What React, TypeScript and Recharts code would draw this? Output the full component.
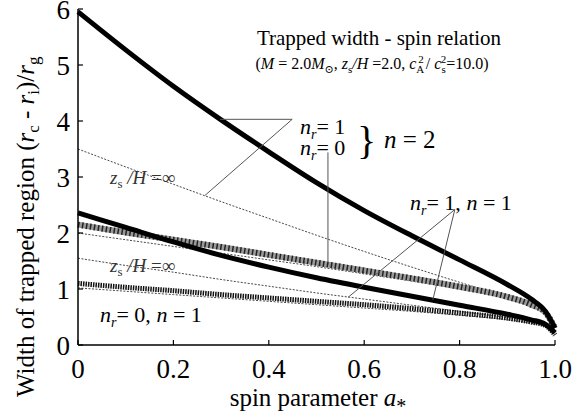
import React from 'react';
import { LineChart, Line, XAxis, YAxis, ReferenceLine } from 'recharts';

// spin parameter a* grid
const spin = [0, 0.1, 0.2, 0.3, 0.4, 0.5, 0.6, 0.7, 0.8, 0.9, 0.95, 0.98, 1.0];

// n = 2
const nr1n2 = [5.95, 5.27, 4.62, 4.02, 3.45, 2.9, 2.4, 1.95, 1.52, 1.08, 0.82, 0.6, 0.3];
const nr0n2 = [2.15, 2.01, 1.88, 1.75, 1.61, 1.47, 1.33, 1.19, 1.04, 0.86, 0.72, 0.58, 0.3];
// n = 1
const nr1n1 = [2.36, 2.1, 1.84, 1.6, 1.39, 1.2, 1.03, 0.87, 0.71, 0.55, 0.45, 0.37, 0.22];
const nr0n1 = [1.1, 1.03, 0.97, 0.9, 0.84, 0.78, 0.72, 0.65, 0.57, 0.48, 0.41, 0.35, 0.18];
// zs/H = infinity
const infNr1n2 = [3.5, 3.18, 2.87, 2.56, 2.26, 1.96, 1.67, 1.39, 1.12, 0.86, 0.72, 0.6, 0.35];
const infNr0n2 = [2.0, 1.88, 1.76, 1.64, 1.52, 1.4, 1.27, 1.14, 1.0, 0.84, 0.7, 0.58, 0.32];
const infNr1n1 = [1.55, 1.42, 1.3, 1.17, 1.05, 0.93, 0.82, 0.71, 0.6, 0.49, 0.42, 0.36, 0.25];
const infNr0n1 = [1.02, 0.96, 0.9, 0.84, 0.78, 0.72, 0.66, 0.6, 0.53, 0.45, 0.39, 0.33, 0.18];

const xTicks = [0, 0.2, 0.4, 0.6, 0.8, 1.0];
const yTicks = [0, 1, 2, 3, 4, 5, 6];

const data = spin.map((a, i) => ({
  a,
  nr1n2: nr1n2[i],
  nr0n2: nr0n2[i],
  nr1n1: nr1n1[i],
  nr0n1: nr0n1[i],
  infNr1n2: infNr1n2[i],
  infNr0n2: infNr0n2[i],
  infNr1n1: infNr1n1[i],
  infNr0n1: infNr0n1[i]
}));

const serif = {
  fontFamily: '"Liberation Serif", "Times New Roman", Tinos, "DejaVu Serif", "Noto Serif", Times, serif'
};

const BottomTick = (props: any) => {
  const { x, y, payload } = props;
  const v = payload.value;
  const label = v === 0 ? '0' : v.toFixed(1);
  return (
    <g>
      <line x1={x} x2={x} y1={y} y2={y - 5} stroke="#000" strokeWidth={1.2} />
      <text x={x} y={y + 33} textAnchor="middle" fontSize={27} style={serif} fill="#000">
        {label}
      </text>
    </g>
  );
};

const LeftTick = (props: any) => {
  const { x, y, payload } = props;
  return (
    <g>
      <line x1={x} x2={x + 5} y1={y} y2={y} stroke="#000" strokeWidth={1.2} />
      <text x={x - 8} y={y + 10} textAnchor="end" fontSize={27} style={serif} fill="#000">
        {payload.value}
      </text>
    </g>
  );
};

const TopTick = (props: any) => {
  const { x, y } = props;
  return <line x1={x} x2={x} y1={y} y2={y + 5} stroke="#000" strokeWidth={1.2} />;
};

const RightTick = (props: any) => {
  const { x, y } = props;
  return <line x1={x} x2={x - 5} y1={y} y2={y} stroke="#000" strokeWidth={1.2} />;
};

const Nr = ({ v }: { v: string }) => (
  <>
    <tspan fontStyle="italic">n</tspan>
    <tspan fontStyle="italic" fontSize={14} dy={5}>r</tspan>
    <tspan dy={-5}>{'= ' + v}</tspan>
  </>
);

const ZsH = () => (
  <>
    <tspan fontStyle="italic">z</tspan>
    <tspan fontSize={13} dy={4}>s</tspan>
    <tspan dy={-4} fontStyle="italic"> /H</tspan>
    <tspan> =∞</tspan>
  </>
);

const Labels = () => (
  <svg
    width={577}
    height={419}
    style={{ position: 'absolute', left: 0, top: 0, pointerEvents: 'none', ...serif }}
  >
    <text x={379} y={45} textAnchor="middle" fontSize={21} fill="#000">
      Trapped width - spin relation
    </text>
    <text x={372} y={69} textAnchor="middle" fontSize={16} fill="#000">
      <tspan>(</tspan>
      <tspan fontStyle="italic">M</tspan>
      <tspan> = 2.0</tspan>
      <tspan fontStyle="italic">M</tspan>
      <tspan fontSize={11} dy={4}>⊙</tspan>
      <tspan dy={-4}>, </tspan>
      <tspan fontStyle="italic">z</tspan>
      <tspan fontSize={11} dy={4}>s</tspan>
      <tspan dy={-4} fontStyle="italic">/H</tspan>
      <tspan> =2.0, </tspan>
      <tspan fontStyle="italic">c</tspan>
      <tspan fontSize={11} dy={4}>A</tspan>
      <tspan fontSize={11} dy={-10} dx={-6}>2</tspan>
      <tspan dy={6} dx={2}>/ </tspan>
      <tspan fontStyle="italic">c</tspan>
      <tspan fontSize={11} dy={4}>s</tspan>
      <tspan fontSize={11} dy={-10} dx={-5}>2</tspan>
      <tspan dy={6}>=10.0)</tspan>
    </text>

    <text x={300} y={134} fontSize={22} fill="#000"><Nr v="1" /></text>
    <text x={300} y={155} fontSize={22} fill="#000"><Nr v="0" /></text>
    <text x={357} y={154} fontSize={40} fill="#000">{'}'}</text>
    <text x={384} y={148} fontSize={25} fill="#000">
      <tspan fontStyle="italic">n</tspan>
      <tspan> = 2</tspan>
    </text>

    <text x={110} y={184} fontSize={19} fill="#333"><ZsH /></text>
    <text x={110} y={272} fontSize={19} fill="#333"><ZsH /></text>

    <text x={410} y={210} fontSize={22} fill="#000">
      <Nr v="1, " />
      <tspan fontStyle="italic">n</tspan>
      <tspan> = 1</tspan>
    </text>
    <text x={100} y={322} fontSize={22} fill="#000">
      <Nr v="0, " />
      <tspan fontStyle="italic">n</tspan>
      <tspan> = 1</tspan>
    </text>

    <text x={318} y={406} textAnchor="middle" fontSize={25} fill="#000">
      <tspan>spin parameter  </tspan>
      <tspan fontStyle="italic">a</tspan>
      <tspan fontSize={20} dy={7}>*</tspan>
    </text>

    <text transform="translate(34, 397) rotate(-90)" x={0} y={0} fontSize={25} fill="#000">
      <tspan>Width of trapped region  (</tspan>
      <tspan fontStyle="italic">r</tspan>
      <tspan fontSize={17} dy={5}>c</tspan>
      <tspan dy={-5}> - </tspan>
      <tspan fontStyle="italic">r</tspan>
      <tspan fontSize={17} dy={5}>i</tspan>
      <tspan dy={-5}>)/</tspan>
      <tspan fontStyle="italic">r</tspan>
      <tspan fontSize={17} dy={5}>g</tspan>
    </text>
  </svg>
);

const pointer = { stroke: '#555', strokeWidth: 1 };

const TrappedWidthChart = () => {
  return (
    <div style={{ position: 'absolute', left: 0, top: 0, width: 577, height: 419, background: '#fff' }}>
      <LineChart
        width={577}
        height={419}
        data={data}
        margin={{ top: 9, right: 22, bottom: 34, left: 28 }}
      >
        <XAxis
          xAxisId="b"
          dataKey="a"
          type="number"
          domain={[0, 1]}
          ticks={xTicks}
          tick={<BottomTick />}
          tickLine={false}
          tickSize={0}
          tickMargin={0}
          axisLine={{ stroke: '#000', strokeWidth: 1.5 }}
          height={40}
        />
        <XAxis
          xAxisId="t"
          orientation="top"
          type="number"
          domain={[0, 1]}
          ticks={xTicks}
          tick={<TopTick />}
          tickLine={false}
          tickSize={0}
          tickMargin={0}
          axisLine={{ stroke: '#000', strokeWidth: 1.5 }}
          height={0}
        />
        <YAxis
          yAxisId="l"
          type="number"
          domain={[0, 6]}
          ticks={yTicks}
          tick={<LeftTick />}
          tickLine={false}
          tickSize={0}
          tickMargin={0}
          axisLine={{ stroke: '#000', strokeWidth: 1.5 }}
          width={50}
        />
        <YAxis
          yAxisId="r"
          orientation="right"
          type="number"
          domain={[0, 6]}
          ticks={yTicks}
          tick={<RightTick />}
          tickLine={false}
          tickSize={0}
          tickMargin={0}
          axisLine={{ stroke: '#000', strokeWidth: 1.5 }}
          width={0}
        />

        {/* zs/H = infinity, thin dotted */}
        <Line xAxisId="b" yAxisId="l" type="monotone" dataKey="infNr1n2" stroke="#333" strokeWidth={0.9} strokeDasharray="2 1.5" dot={false} isAnimationActive={false} />
        <Line xAxisId="b" yAxisId="l" type="monotone" dataKey="infNr0n2" stroke="#333" strokeWidth={0.9} strokeDasharray="2 1.5" dot={false} isAnimationActive={false} />
        <Line xAxisId="b" yAxisId="l" type="monotone" dataKey="infNr1n1" stroke="#333" strokeWidth={0.9} strokeDasharray="2 1.5" dot={false} isAnimationActive={false} />
        <Line xAxisId="b" yAxisId="l" type="monotone" dataKey="infNr0n1" stroke="#333" strokeWidth={0.9} strokeDasharray="2 1.5" dot={false} isAnimationActive={false} />

        {/* zs/H = 2.0 */}
        <Line xAxisId="b" yAxisId="l" type="monotone" dataKey="nr0n2" stroke="#9a9a9a" strokeWidth={6} dot={false} isAnimationActive={false} />
        <Line xAxisId="b" yAxisId="l" type="monotone" dataKey="nr0n2" stroke="#222" strokeWidth={6} strokeDasharray="1.5 2.5" dot={false} isAnimationActive={false} />
        <Line xAxisId="b" yAxisId="l" type="monotone" dataKey="nr0n1" stroke="#111" strokeWidth={5} strokeDasharray="1.5 1" dot={false} isAnimationActive={false} />
        <Line xAxisId="b" yAxisId="l" type="monotone" dataKey="nr1n1" stroke="#000" strokeWidth={5} dot={false} isAnimationActive={false} />
        <Line xAxisId="b" yAxisId="l" type="monotone" dataKey="nr1n2" stroke="#000" strokeWidth={5} dot={false} isAnimationActive={false} />

        {/* label pointers */}
        <ReferenceLine xAxisId="b" yAxisId="l" segment={[{ x: 0.298, y: 4.03 }, { x: 0.449, y: 4.03 }]} {...pointer} />
        <ReferenceLine xAxisId="b" yAxisId="l" segment={[{ x: 0.449, y: 4.03 }, { x: 0.266, y: 2.67 }]} {...pointer} />
        <ReferenceLine xAxisId="b" yAxisId="l" segment={[{ x: 0.524, y: 3.44 }, { x: 0.524, y: 1.49 }]} {...pointer} />
        <ReferenceLine xAxisId="b" yAxisId="l" segment={[{ x: 0.79, y: 2.42 }, { x: 0.566, y: 0.85 }]} {...pointer} />
        <ReferenceLine xAxisId="b" yAxisId="l" segment={[{ x: 0.79, y: 2.42 }, { x: 0.744, y: 0.81 }]} {...pointer} />
      </LineChart>
      <Labels />
    </div>
  );
};

export default TrappedWidthChart;
